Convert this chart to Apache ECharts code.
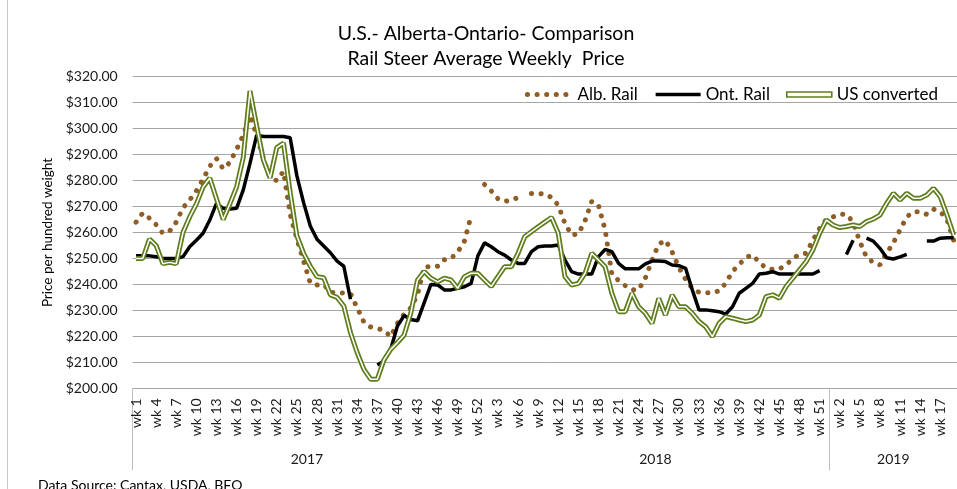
<!DOCTYPE html>
<html>
<head>
<meta charset="utf-8">
<title>Rail Steer Average Weekly Price</title>
<script src="https://cdn.jsdelivr.net/npm/echarts@6/dist/echarts.min.js"></script>
<style>
  html, body { margin: 0; padding: 0; background: #fff; }
  #main { width: 957px; height: 489px; }
</style>
</head>
<body>
<div id="main"></div>
<script>
// weeks shown: 2017 wk1-52, 2018 wk1-52, 2019 wk1-19
var years = ['2017', '2018', '2019'];
var yearWeeks = [52, 52, 19];

var weeks = [];
var yearStart = [];
for (var y = 0; y < years.length; y++) {
    yearStart.push(weeks.length);
    for (var w = 1; w <= yearWeeks[y]; w++) weeks.push('wk ' + w);
}

// $ per hundred weight
var albRail = [
    264, 267.5, 265.5, 263, 259.7, 260.5, 264, 269.5, 272.5, 276,
    280.5, 285.5, 288.5, 284.5, 287, 292, 297.5, 305, 297.5, 288.5,
    281, 280, 283.5, 267, 257.5, 249, 240.5, 239.8, 240, 237,
    236.8, 236.7, 236.5, 231, 225.5, 223.6, 223.1, 222.3, 219.9, 225,
    228.5, 231, 236, 246.8, 246.8, 247, 249.5, 250, 252.5, 256.7,
    266.5, null, 278.5, 276, 273, 272, 272.5, 273.5, null, 275,
    275, 274.8, 273.5, 270.5, 263.5, 259, 259.5, 264.5, 272, 270.5,
    261, 244, 241.5, 239.5, 238, 238, 242.5, 249.5, 255.5, 257,
    252.5, 246.5, 242, 238.5, 237, 236.8, 236.8, 237.5, 240.5, 245,
    247.7, 250.4, 251.3, 248.5, 246.3, 245.8, 246, 247.5, 250, 251.5,
    252, 257, 261.5, 265, 266, 267, 267, 264, 256.5, 250.5,
    248.5, 247.5, 252, 256, 261, 266, 268, 268, 267, 269,
    268, 265, 257
];

var ontRail = [
    251, 251, 251, 250.7, 250, 250, 250, 250.7, 254.5, 257,
    259.7, 264.8, 271.2, 269.3, 269, 269.3, 276.4, 286.6, 297.5, 297,
    297, 297, 297, 296.5, 281.8, 271.5, 262.5, 257.4, 254.8, 252.2,
    249, 247, 234.3, null, null, null, 209, 210.5, 215, 224,
    228, 226.5, 226, 233, 240, 239.8, 237.9, 237.9, 238.5, 239.1,
    240.4, 251, 256, 254.5, 252.6, 251.3, 249.4, 248.1, 248.1, 252.6,
    254.5, 254.8, 254.8, 255.2, 249.4, 244.9, 244, 244, 244, 250.7,
    253.5, 252.6, 248.1, 246, 246, 246, 247.9, 249, 249, 248.8,
    247.5, 247.2, 246.2, 237.9, 230.2, 230.2, 229.9, 229.5, 228.6, 231.4,
    236.6, 238.5, 240.4, 244, 244.3, 244.9, 244, 244, 244, 244,
    244, 244, 245.3, null, null, null, 251.5, 257, null, 257.8,
    256.7, 253.9, 250.3, 249.8, 250.6, 251.6, null, null, 256.7, 256.7,
    257.8, 258, 258
];

var usConverted = [
    250, 250, 257.5, 255, 248, 248.5, 248, 260, 266, 271,
    277.5, 281, 273, 265, 271, 277.5, 289, 314.5, 301, 288,
    281, 292.7, 294.4, 275.4, 258.7, 252, 247, 243, 242.6, 236,
    235, 231.7, 221.4, 213.7, 207.3, 203.5, 203.5, 211, 215, 217.6,
    220.5, 229, 241.7, 245, 242.4, 241, 242.4, 241.7, 238.5, 243,
    244.3, 244.3, 241.7, 239.2, 243, 246.8, 246.8, 252, 258.4, 260.3,
    262.2, 264, 265.8, 259.7, 243, 239.8, 240.4, 244.3, 252, 249.4,
    246.8, 236.6, 229.5, 229.5, 236.6, 231.4, 228.9, 225, 234.6, 228.2,
    235.9, 231.4, 231.4, 228.9, 225.7, 223.7, 219.9, 225, 227.6, 227,
    226.3, 225.7, 226.3, 228.2, 235.3, 236, 234.7, 239.2, 242.4, 245.6,
    248.8, 253.3, 259.7, 264.8, 262.9, 261.9, 262.3, 262.9, 262.3, 264.2,
    265.2, 266.7, 271.2, 275.1, 272.5, 275.1, 273.2, 273.2, 274.4, 277,
    273.8, 266.7, 259
];

var font = 'Lato, "Open Sans", sans-serif';
var brown = '#8f5e26';
var green = '#5f7d1c';

// year label in the middle of each year block, separators where Excel drew them
var yearMid = [];
for (var k = 0; k < years.length; k++) yearMid.push(yearStart[k] + yearWeeks[k] / 2);

var myChart = echarts.init(document.getElementById('main'));

option = {
    animation: false,
    textStyle: { fontFamily: font },
    title: [
        {
            text: 'U.S.- Alberta-Ontario- Comparison\nRail Steer Average Weekly  Price',
            left: 481,
            top: 16,
            textAlign: 'center',
            textStyle: { fontFamily: font, fontSize: 19.5, fontWeight: 'normal', color: '#000', lineHeight: 25 }
        },
        {
            text: 'Data Source: Cantax, USDA, BFO',
            left: 33,
            top: 473,
            textStyle: { fontFamily: font, fontSize: 14, fontWeight: 'normal', color: '#000' }
        }
    ],
    legend: {
        right: 14,
        top: 81,
        itemWidth: 45,
        itemHeight: 5,
        itemGap: 16,
        textStyle: { fontFamily: font, fontSize: 17, color: '#000' },
        data: [
            { name: 'Alb. Rail', lineStyle: { width: 5 }, itemStyle: { opacity: 0 } },
            { name: 'Ont. Rail', lineStyle: { width: 3.5 }, itemStyle: { opacity: 0 } },
            { name: 'US converted', icon: 'rect', itemStyle: { color: '#fff', borderColor: green, borderWidth: 1.6 } }
        ]
    },
    grid: { left: 132.7, top: 76.7, width: 827.2, height: 311.6 },
    xAxis: [
        {
            type: 'category',
            data: weeks,
            boundaryGap: true,
            axisLine: { lineStyle: { color: '#a6a6a6' } },
            axisTick: { show: false },
            axisLabel: { interval: 2, rotate: 90, margin: 10, fontSize: 14, color: '#1a1a1a', fontFamily: font }
        },
        {
            type: 'value',
            position: 'bottom',
            min: 0,
            max: weeks.length,
            axisLine: { show: false },
            splitLine: { show: false },
            axisTick: { show: true, customValues: [yearStart[0], yearStart[2]], length: 82, lineStyle: { color: '#bfbfbf' } },
            axisLabel: {
                customValues: yearMid,
                margin: 64,
                fontSize: 14,
                color: '#1a1a1a',
                fontFamily: font,
                formatter: function (v) {
                    var idx = yearMid.indexOf(v);
                    return idx >= 0 ? years[idx] : '';
                }
            }
        }
    ],
    yAxis: {
        type: 'value',
        min: 200,
        max: 320,
        interval: 10,
        name: 'Price per hundred weight',
        nameLocation: 'middle',
        nameGap: 75,
        nameTextStyle: { fontFamily: font, fontSize: 13.5, color: '#000' },
        axisLine: { show: false },
        axisTick: { show: false },
        axisLabel: {
            margin: 15,
            fontSize: 14,
            color: '#1a1a1a',
            fontFamily: font,
            formatter: function (v) { return '$' + v.toFixed(2); }
        },
        splitLine: { lineStyle: { color: '#a6a6a6', width: 1 } }
    },
    series: [
        {
            name: 'Alb. Rail',
            type: 'line',
            data: albRail,
            symbol: 'none',
            lineStyle: { color: brown, width: 5, type: [0.1, 9.5], cap: 'round' },
            itemStyle: { color: brown }
        },
        {
            name: 'Ont. Rail',
            type: 'line',
            data: ontRail,
            symbol: 'none',
            lineStyle: { color: '#000', width: 3.5 },
            itemStyle: { color: '#000' }
        },
        {
            name: 'US converted',
            type: 'line',
            data: usConverted,
            symbol: 'none',
            lineStyle: { color: green, width: 5 },
            itemStyle: { color: green }
        },
        {
            name: 'US converted inner',
            type: 'line',
            data: usConverted,
            symbol: 'none',
            silent: true,
            lineStyle: { color: '#fff', width: 1.5 },
            itemStyle: { color: '#fff' }
        }
    ],
    graphic: [
        {
            type: 'rect',
            shape: { x: 7.5, y: -10, width: 1000, height: 1000 },
            style: { fill: 'none', stroke: '#c8c8c8', lineWidth: 1 },
            silent: true,
            z: -10
        }
    ]
};

myChart.setOption(option);
</script>
</body>
</html>
